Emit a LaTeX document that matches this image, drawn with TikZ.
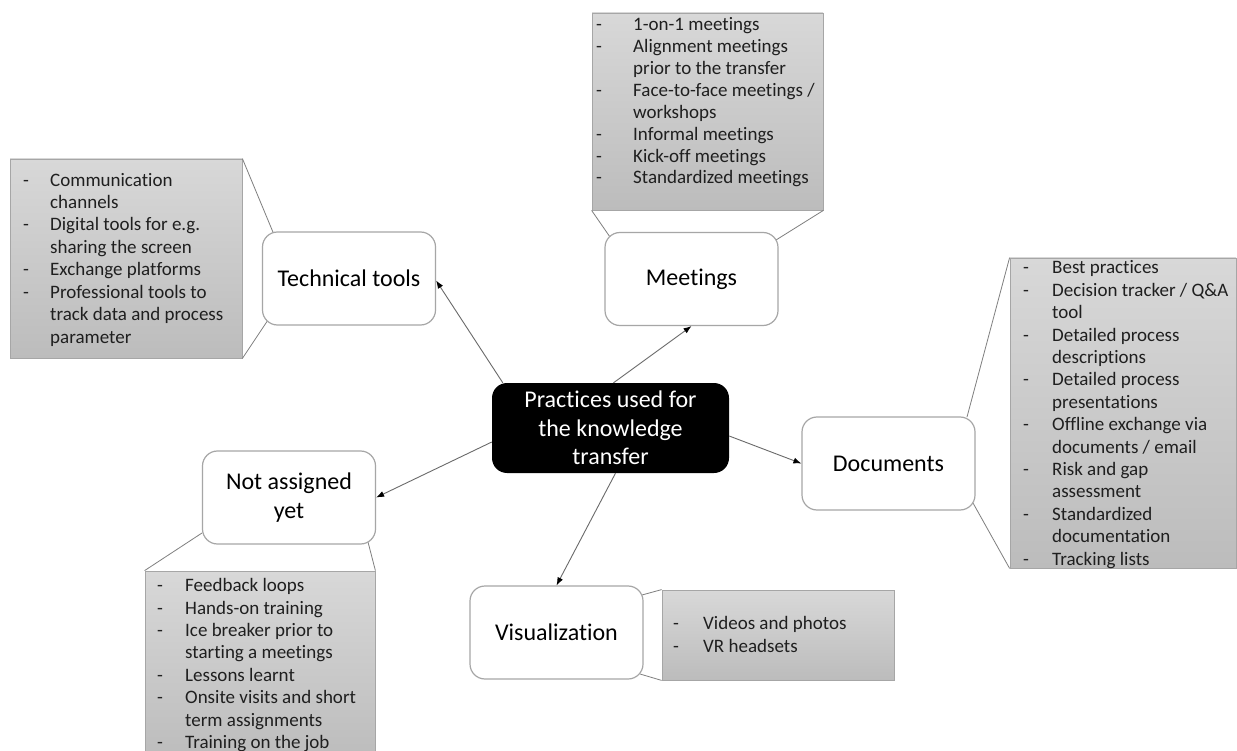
\documentclass[tikz,border=0pt]{standalone}
\usepackage{fontspec}
\setmainfont{Carlito}[Ligatures=NoCommon]
\usetikzlibrary{arrows.meta,calc}

\definecolor{boxline}{HTML}{A6A6A6}
\definecolor{paneltop}{HTML}{D8D8D8}
\definecolor{panelbot}{HTML}{BCBCBC}
\definecolor{connector}{HTML}{6A6A6A}
\definecolor{calloutline}{HTML}{7F7F7F}

% list item: dash hanging to the left of the item text
\newcommand\itm[2][28pt]{\llap{\makebox[#1][l]{-}}#2}

\tikzset{
  topic/.style={draw=boxline, line width=1.2pt, rounded corners=15pt, fill=white,
    minimum width=173pt, minimum height=93pt, inner sep=0pt, align=center,
    font=\fontsize{24}{28.5}\selectfont},
  hub/.style={fill=black, rounded corners=15pt, text=white,
    minimum width=237pt, minimum height=90pt, inner sep=0pt, align=center,
    font=\fontsize{24}{28.5}\selectfont},
  panel/.style={draw=boxline, line width=0.8pt, top color=paneltop, bottom color=panelbot,
    inner sep=0pt},
  % lists are placed by the baseline of their last line
  listtext/.style={anchor=base west, align=left, inner sep=0pt, text=black!88,
    font=\fontsize{19}{22.4}\selectfont},
  link/.style={draw=connector, line width=0.9pt, -{Latex[length=8pt,width=6pt,color=black]}},
  callout/.style={draw=calloutline, line width=0.8pt},
}

\begin{document}
\begin{tikzpicture}[x=1pt,y=-1pt]
\clip (0,0) rectangle (1237,751);
\fill[white] (0,0) rectangle (1237,751);

% grey detail panels
\node[panel, minimum width=232pt, minimum height=199pt] (tp) at (126,258.5) {};
\node[panel, minimum width=231pt, minimum height=197pt] (mp) at (707.5,111.5) {};
\node[panel, minimum width=226pt, minimum height=310pt] (dp) at (1123,413) {};
\node[panel, minimum width=230pt, minimum height=189pt] (np) at (260,665.5) {};
\node[panel, minimum width=232pt, minimum height=90pt] (vp) at (778,635) {};

% panel contents
\node[listtext] (tl) at (50,343) {\itm[27pt]{Communication}\\channels\\\itm[27pt]{Digital tools for e.g.}\\sharing the screen\\\itm[27pt]{Exchange platforms}\\\itm[27pt]{Professional tools to}\\track data and process\\parameter};
\node[listtext, font=\fontsize{19}{21.9}\selectfont] (ml) at (633,184) {\itm[37pt]{1-on-1 meetings}\\\itm[37pt]{Alignment meetings}\\prior to the transfer\\\itm[37pt]{Face-to-face meetings /}\\workshops\\\itm[37pt]{Informal meetings}\\\itm[37pt]{Kick-off meetings}\\\itm[37pt]{Standardized meetings}};
\node[listtext] (dl) at (1052,565) {\itm[29pt]{Best practices}\\\itm[29pt]{Decision tracker / Q\&A}\\tool\\\itm[29pt]{Detailed process}\\descriptions\\\itm[29pt]{Detailed process}\\presentations\\\itm[29pt]{Offline exchange via}\\documents / email\\\itm[29pt]{Risk and gap}\\assessment\\\itm[29pt]{Standardized}\\documentation\\\itm[29pt]{Tracking lists}};
\node[listtext] (nl) at (185,748.5) {\itm{Feedback loops}\\\itm{Hands-on training}\\\itm{Ice breaker prior to}\\starting a meetings\\\itm{Lessons learnt}\\\itm{Onsite visits and short}\\term assignments\\\itm{Training on the job}};
\node[listtext] (vl) at (703,652) {\itm[30pt]{Videos and photos}\\\itm[30pt]{VR headsets}};

% callout wedges from the topics to their panels
\draw[callout] (tp.north east) -- (275,237);
\draw[callout] (tp.south east) -- (268,320);
\draw[callout] (mp.south west) -- (610,237);
\draw[callout] (mp.south east) -- (776,240);
\draw[callout] (dp.north west) -- (967,417);
\draw[callout] (dp.south west) -- (973,503);
\draw[callout] (np.north west) -- (202,533);
\draw[callout] (np.north east) -- (368,542);
\draw[callout] (vp.north west) -- (642,595);
\draw[callout] (vp.south west) -- (640,674);

% topics
\node[topic] (tech) at (349,278.5) {Technical tools};
\node[topic] (meet) at (691.5,279) {Meetings};
\node[topic] (docs) at (888.5,463.5) {Documents};
\node[topic] (na) at (289,497.5) {Not assigned\\yet};
\node[topic] (vis) at (556.5,632.5) {Visualization};

% central node
\node[hub] (hub) at (610.5,428) {Practices used for\\the knowledge\\transfer};

% connectors
\draw[link] ($(hub.north west)+(11,0)$) -- ($(tech.east)+(0,2)$);
\draw[link] ($(hub.north)+(3,0)$) -- (meet.south);
\draw[link] ($(hub.east)+(0,8)$) -- (docs.west);
\draw[link] ($(hub.west)+(0,14)$) -- (na.east);
\draw[link] ($(hub.south)+(5,0)$) -- (vis.north);
\end{tikzpicture}
\end{document}
